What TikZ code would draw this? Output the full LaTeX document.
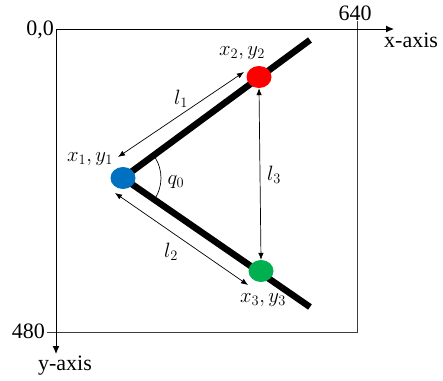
\documentclass[tikz,border=0pt]{standalone}
\usepackage{fontspec}
\setmainfont{Liberation Serif}
\usetikzlibrary{arrows.meta,shapes.geometric}
\definecolor{dotred}{RGB}{255,0,0}
\definecolor{dotblue}{RGB}{0,112,192}
\definecolor{dotgreen}{RGB}{0,176,80}
\definecolor{framegray}{RGB}{60,60,60}
\tikzset{
  axis/.style={line width=1pt,-{Latex[length=8pt,width=7pt]}},
  frame/.style={line width=1pt,draw=framegray},
  rod/.style={line width=6.5pt,line cap=butt},
  dim/.style={line width=0.7pt,{Latex[length=7pt,width=5.5pt]}-{Latex[length=7pt,width=5.5pt]}},
  dotstyle/.style={ellipse,minimum width=25pt,minimum height=22pt,inner sep=0pt},
  lbl/.style={font=\fontsize{22}{22}\selectfont,inner sep=0pt},
  mlbl/.style={font=\fontsize{22}{22}\selectfont,inner sep=0pt}
}
\begin{document}
\begin{tikzpicture}[x=1pt,y=-1pt]
\useasboundingbox (0,0) rectangle (443,380);
% frame corners
\coordinate (O) at (56,29);
\coordinate (BR) at (357,332);
\coordinate (Xend) at (394,29);
\coordinate (Yend) at (56,354);
\coordinate (Ttick) at (357,21);
\coordinate (Ltick) at (47,332);
\draw[frame] (Ttick) -- (BR) -- (Ltick);
\draw[axis] (O) -- (Xend);
\draw[axis] (O) -- (Yend);
\node[lbl,anchor=east] (zero) at (54,30) {0,0};
\node[lbl] (w) at (355,13) {640};
\node[lbl,anchor=west] (xa) at (384,40) {x-axis};
\node[lbl,anchor=east] (h) at (45,331) {480};
\node[lbl] (ya) at (65,366) {y-axis};
% rods
\coordinate (A) at (123,178);
\coordinate (Bend) at (310,40);
\coordinate (Cend) at (310,307);
\draw[rod] (A) -- (Bend);
\draw[rod] (A) -- (Cend);
% angle arc
\draw[line width=0.7pt] ([shift={(-35:38)}]A) arc[start angle=-35,end angle=36,radius=38];
% dots
\node[dotstyle,fill=dotblue] (P1) at (A) {};
\node[dotstyle,fill=dotred] (P2) at (259,77) {};
\node[dotstyle,fill=dotgreen] (P3) at (261,271) {};
% dimension arrows
\coordinate (l1a) at (118,157);
\coordinate (l1b) at (244,72);
\coordinate (l2a) at (115,193);
\coordinate (l2b) at (248,285);
\draw[dim] (l1a) -- (l1b);
\draw[dim] (l2a) -- (l2b);
\draw[dim] (P2.south) -- (P3.north);
% labels
\node[mlbl] (t1) at (90,159) {$x_1,y_1$};
\node[mlbl] (t2) at (242,53) {$x_2,y_2$};
\node[mlbl] (t3) at (263,300) {$x_3,y_3$};
\node[mlbl] (L1) at (181,99) {$l_1$};
\node[mlbl] (L2) at (171,252) {$l_2$};
\node[mlbl] (L3) at (274,175) {$l_3$};
\node[mlbl] (q) at (176,182) {$q_0$};
\end{tikzpicture}
\end{document}
